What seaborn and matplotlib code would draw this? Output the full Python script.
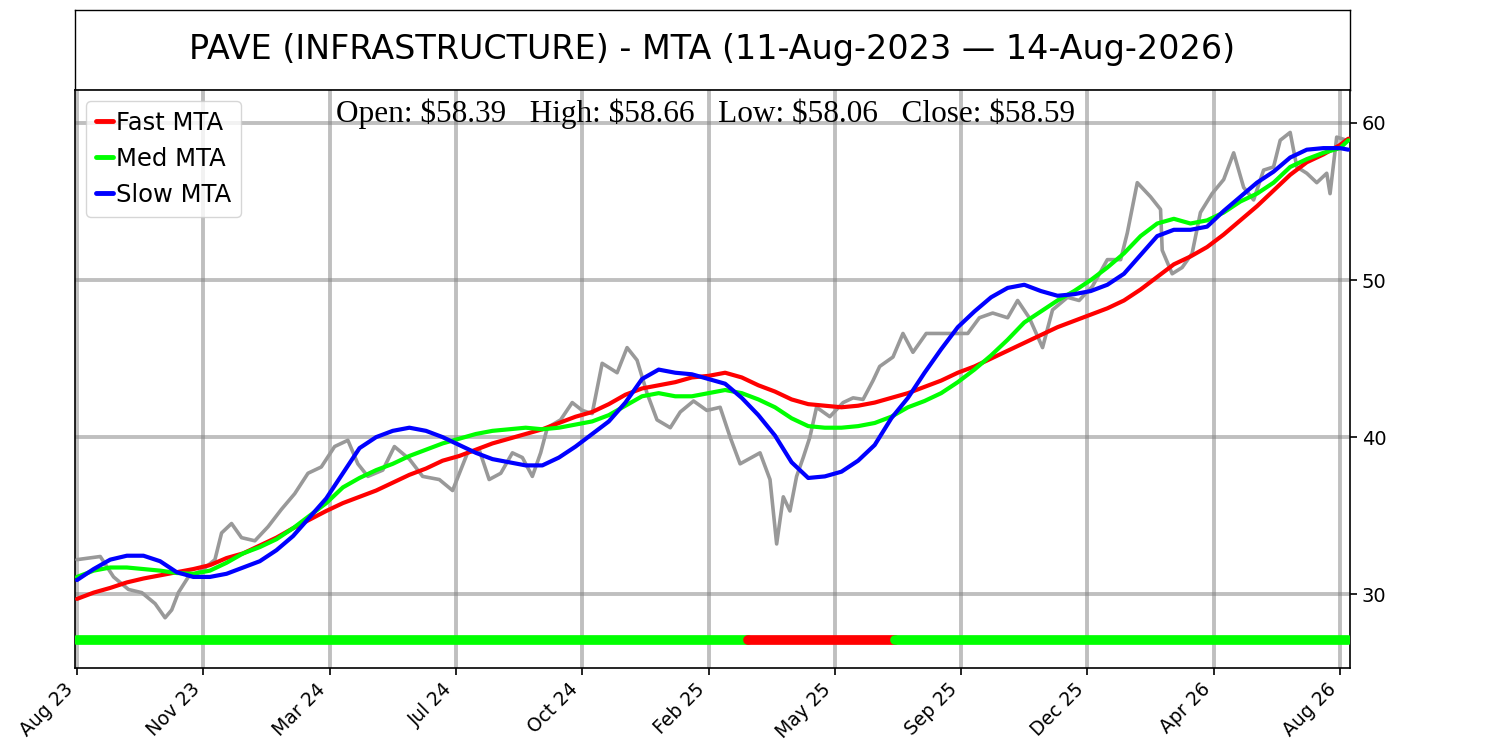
import pandas as pd, matplotlib
matplotlib.use('Agg')
import matplotlib.pyplot as plt
import seaborn as sns

# price: bar index -> close
price_bar = [0, 14, 22, 31, 39, 47, 53, 57, 61, 67, 75, 83, 87, 93, 99, 107, 115, 123,
             131, 139, 147, 155, 163, 169, 175, 184, 191, 200, 208, 218, 226, 235, 242,
             248, 255, 262, 268, 274, 279, 283, 291, 298, 304, 310, 316, 325, 331, 337,
             343, 349, 357, 363, 371, 379, 387, 393, 399, 411, 417, 421, 425, 429, 433,
             437, 441, 445, 453, 461, 467, 473, 479, 483, 491, 497, 503, 511, 519, 527,
             536, 543, 551, 560, 566, 573, 581, 587, 596, 603, 611, 620, 628, 632, 638,
             646, 652, 653, 659, 665, 671, 676, 683, 690, 696, 702, 708, 714, 720, 724,
             730, 734, 740, 746, 752, 754, 758, 764]
price_close = [32.2, 32.4, 31.1, 30.3, 30.1, 29.4, 28.5, 29.0, 30.1, 31.1, 31.5, 32.2, 33.9,
               34.5, 33.6, 33.4, 34.3, 35.4, 36.4, 37.7, 38.1, 39.4, 39.8, 38.3, 37.5, 37.9,
               39.4, 38.6, 37.5, 37.3, 36.6, 39.0, 39.2, 37.3, 37.7, 39.0, 38.7, 37.5, 39.0,
               40.6, 41.1, 42.2, 41.7, 41.5, 44.7, 44.1, 45.7, 44.9, 42.8, 41.1, 40.6, 41.6,
               42.3, 41.7, 41.9, 40.0, 38.3, 39.0, 37.3, 33.2, 36.2, 35.3, 37.5, 38.7, 40.0,
               41.9, 41.3, 42.2, 42.5, 42.4, 43.6, 44.5, 45.1, 46.6, 45.4, 46.6, 46.6, 46.6,
               46.6, 47.6, 47.9, 47.6, 48.7, 47.6, 45.7, 48.1, 48.9, 48.7, 49.6, 51.3, 51.3,
               53.0, 56.2, 55.3, 54.5, 51.9, 50.4, 50.8, 51.7, 54.3, 55.5, 56.4, 58.1, 55.9,
               55.1, 57.0, 57.2, 58.9, 59.4, 57.2, 56.8, 56.2, 56.8, 55.5, 59.1, 58.9]

# MTA lines, every 10th bar
bar_idx = list(range(0, 761, 10)) + [765]

fast_mta = [29.7, 30.1, 30.4, 30.75, 31.0, 31.2, 31.4, 31.6, 31.85, 32.3,
            32.6, 33.1, 33.6, 34.2, 34.75, 35.3, 35.8, 36.2, 36.6, 37.1,
            37.6, 38.0, 38.5, 38.8, 39.2, 39.6, 39.9, 40.2, 40.5, 40.9,
            41.3, 41.6, 42.1, 42.7, 43.1, 43.3, 43.5, 43.8, 43.9, 44.1,
            43.8, 43.3, 42.9, 42.4, 42.1, 42.0, 41.9, 42.0, 42.2, 42.5,
            42.8, 43.2, 43.6, 44.1, 44.5, 45.0, 45.5, 46.0, 46.5, 47.0,
            47.4, 47.8, 48.2, 48.7, 49.4, 50.2, 51.0, 51.5, 52.1, 52.9,
            53.8, 54.7, 55.7, 56.7, 57.5, 58.0, 58.6, 59.0]

med_mta = [31.1, 31.5, 31.7, 31.7, 31.6, 31.5, 31.35, 31.3, 31.5, 32.0,
           32.6, 33.0, 33.5, 34.2, 35.0, 35.8, 36.8, 37.4, 37.9, 38.3,
           38.8, 39.2, 39.6, 39.9, 40.2, 40.4, 40.5, 40.6, 40.5, 40.6,
           40.8, 41.0, 41.4, 42.0, 42.6, 42.8, 42.6, 42.6, 42.8, 43.0,
           42.8, 42.4, 41.9, 41.2, 40.7, 40.6, 40.6, 40.7, 40.9, 41.3,
           41.9, 42.3, 42.8, 43.5, 44.3, 45.2, 46.2, 47.3, 48.0, 48.7,
           49.3, 50.0, 50.8, 51.7, 52.8, 53.6, 53.9, 53.6, 53.8, 54.3,
           55.0, 55.5, 56.2, 57.2, 57.7, 58.1, 58.4, 58.9]

slow_mta = [30.9, 31.6, 32.2, 32.45, 32.45, 32.1, 31.4, 31.1, 31.1, 31.3,
            31.7, 32.1, 32.8, 33.7, 34.9, 36.1, 37.7, 39.3, 40.0, 40.4,
            40.6, 40.4, 40.0, 39.5, 39.0, 38.6, 38.4, 38.2, 38.2, 38.7,
            39.4, 40.2, 41.0, 42.2, 43.7, 44.3, 44.1, 44.0, 43.7, 43.4,
            42.5, 41.4, 40.1, 38.4, 37.4, 37.5, 37.8, 38.5, 39.5, 41.2,
            42.5, 44.1, 45.6, 47.0, 48.0, 48.9, 49.5, 49.7, 49.3, 49.0,
            49.1, 49.3, 49.7, 50.4, 51.6, 52.8, 53.2, 53.2, 53.4, 54.4,
            55.3, 56.2, 56.9, 57.8, 58.3, 58.4, 58.4, 58.3]

# trend signal strip: start bar, end bar, colour
signal_start = [0, 404, 492]
signal_end = [404, 492, 765]
signal_color = ['#00ff00', '#ff0000', '#00ff00']
signal_level = 27.07

tick_pos = [0, 76, 152, 228, 304, 380, 456, 532, 608, 684, 760]
tick_labels = ['Aug 23', 'Nov 23', 'Mar 24', 'Jul 24', 'Oct 24', 'Feb 25',
               'May 25', 'Sep 25', 'Dec 25', 'Apr 26', 'Aug 26']

title = 'PAVE (INFRASTRUCTURE) - MTA (11-Aug-2023 \u2014 14-Aug-2026)'
ohlc = r'Open: \$58.39   High: \$58.66   Low: \$58.06   Close: \$58.59'

sns.set_theme(style='white')
plt.rcParams['font.family'] = ['DejaVu Sans']
plt.rcParams['text.color'] = 'black'
plt.rcParams['xtick.color'] = 'black'
plt.rcParams['ytick.color'] = 'black'

fig = plt.figure(figsize=(15, 7.5), dpi=100)
ax_t = fig.add_axes([0.05, 0.88, 0.85, 0.1067])
ax = fig.add_axes([0.05, 0.1093, 0.85, 0.7707])

# title box
ax_t.set_xticks([])
ax_t.set_yticks([])
for s in ax_t.spines.values():
    s.set_color('black')
    s.set_linewidth(1)
ax_t.text(0.5, 0.5, title, ha='center', va='center', fontsize=24, transform=ax_t.transAxes)

df = pd.DataFrame({'bar': price_bar, 'close': price_close})
mta = pd.DataFrame({
    'bar': bar_idx * 3,
    'value': fast_mta + med_mta + slow_mta,
    'line': ['Fast MTA'] * len(bar_idx) + ['Med MTA'] * len(bar_idx) + ['Slow MTA'] * len(bar_idx),
})

sns.lineplot(data=df, x='bar', y='close', color='#999999', lw=2.6, legend=False, ax=ax, zorder=3)
sns.lineplot(data=mta, x='bar', y='value', hue='line',
             palette={'Fast MTA': '#ff0000', 'Med MTA': '#00ff00', 'Slow MTA': '#0000ff'},
             lw=3, ax=ax, zorder=4)

for a, b, c in zip(signal_start, signal_end, signal_color):
    ax.plot([a, b], [signal_level, signal_level], color=c, lw=7, solid_capstyle='round', zorder=5)

ax.set_xlim(-1.2, 766)
ax.set_ylim(25.3, 62.1)
ax.set_yticks([30, 40, 50, 60])
ax.yaxis.tick_right()
ax.tick_params(axis='y', labelsize=14, length=5, width=1.2, right=True, color='black')
ax.set_xticks(tick_pos)
ax.set_xticklabels(tick_labels, rotation=45, ha='right', fontsize=13.5)
ax.tick_params(axis='x', length=5, width=1.2, bottom=True, color='black')
ax.set_xlabel('')
ax.set_ylabel('')
ax.grid(True, color='gray', alpha=0.5, lw=2.8)
for s in ax.spines.values():
    s.set_color('black')
    s.set_linewidth(1.2)

ax.text(0.4945, 0.985, ohlc, ha='center', va='top', fontsize=22.5,
        family='Liberation Serif', transform=ax.transAxes, zorder=6)

leg = ax.legend(loc='upper left', fontsize=17.5, handlelength=0.72, handletextpad=0.1,
                borderaxespad=0.45, labelspacing=0.5, borderpad=0.4, frameon=True)
leg.set_title(None)
for line in leg.get_lines():
    line.set_linewidth(3.5)

plt.savefig('out.png', dpi=100)
plt.close()
